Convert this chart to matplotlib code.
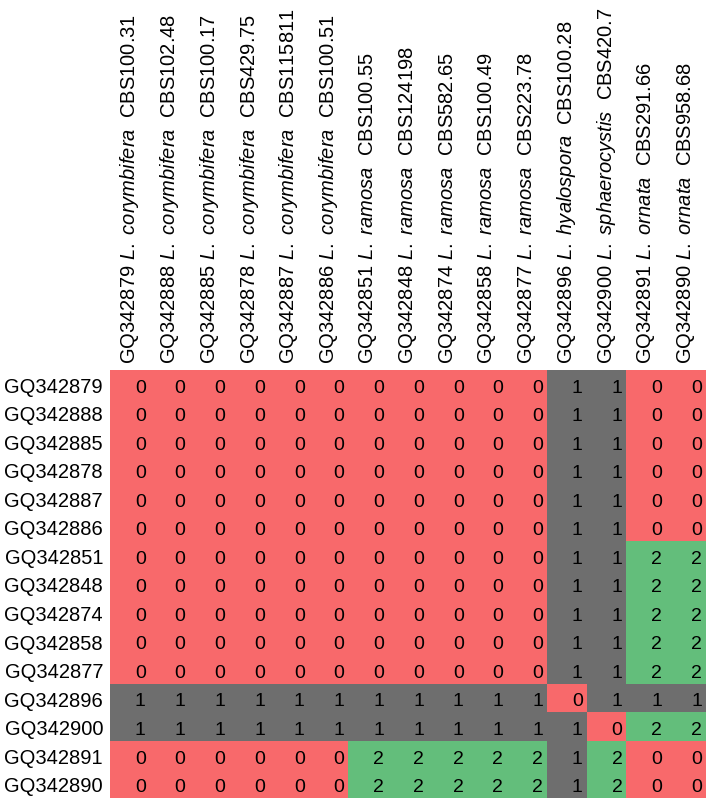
import numpy as np
import matplotlib
matplotlib.use('Agg')
import matplotlib.pyplot as plt
from matplotlib.colors import ListedColormap, BoundaryNorm

plt.rcParams['font.family'] = ['Liberation Sans', 'DejaVu Sans']
plt.rcParams['mathtext.fontset'] = 'custom'
plt.rcParams['mathtext.rm'] = 'Liberation Sans'
plt.rcParams['mathtext.it'] = 'Liberation Sans:italic'

# strains, species and culture numbers
accessions = ['GQ342879', 'GQ342888', 'GQ342885', 'GQ342878', 'GQ342887', 'GQ342886',
              'GQ342851', 'GQ342848', 'GQ342874', 'GQ342858', 'GQ342877',
              'GQ342896', 'GQ342900', 'GQ342891', 'GQ342890']
species = ['corymbifera'] * 6 + ['ramosa'] * 5 + ['hyalospora', 'sphaerocystis', 'ornata', 'ornata']
strains = ['CBS100.31', 'CBS102.48', 'CBS100.17', 'CBS429.75', 'CBS115811', 'CBS100.51',
           'CBS100.55', 'CBS124198', 'CBS582.65', 'CBS100.49', 'CBS223.78',
           'CBS100.28', 'CBS420.7', 'CBS291.66', 'CBS958.68']

# pairwise values (rows and columns in the same order)
values = [
    [0, 0, 0, 0, 0, 0, 0, 0, 0, 0, 0, 1, 1, 0, 0],
    [0, 0, 0, 0, 0, 0, 0, 0, 0, 0, 0, 1, 1, 0, 0],
    [0, 0, 0, 0, 0, 0, 0, 0, 0, 0, 0, 1, 1, 0, 0],
    [0, 0, 0, 0, 0, 0, 0, 0, 0, 0, 0, 1, 1, 0, 0],
    [0, 0, 0, 0, 0, 0, 0, 0, 0, 0, 0, 1, 1, 0, 0],
    [0, 0, 0, 0, 0, 0, 0, 0, 0, 0, 0, 1, 1, 0, 0],
    [0, 0, 0, 0, 0, 0, 0, 0, 0, 0, 0, 1, 1, 2, 2],
    [0, 0, 0, 0, 0, 0, 0, 0, 0, 0, 0, 1, 1, 2, 2],
    [0, 0, 0, 0, 0, 0, 0, 0, 0, 0, 0, 1, 1, 2, 2],
    [0, 0, 0, 0, 0, 0, 0, 0, 0, 0, 0, 1, 1, 2, 2],
    [0, 0, 0, 0, 0, 0, 0, 0, 0, 0, 0, 1, 1, 2, 2],
    [1, 1, 1, 1, 1, 1, 1, 1, 1, 1, 1, 0, 1, 1, 1],
    [1, 1, 1, 1, 1, 1, 1, 1, 1, 1, 1, 1, 0, 2, 2],
    [0, 0, 0, 0, 0, 0, 2, 2, 2, 2, 2, 1, 2, 0, 0],
    [0, 0, 0, 0, 0, 0, 2, 2, 2, 2, 2, 1, 2, 0, 0],
]

data = np.array(values)
n = len(accessions)

col_labels = [a + ' $\\mathit{L.}$ $\\mathit{' + s + '}$  ' + c
              for a, s, c in zip(accessions, species, strains)]

cmap = ListedColormap(['#F8696B', '#6E6E6E', '#63BE7B'])
norm = BoundaryNorm([-0.5, 0.5, 1.5, 2.5], cmap.N)

fig = plt.figure(figsize=(7.14, 8.04), dpi=100)
ax = fig.add_axes([110/714, 1 - 799/804, 596/714, 428/804])
ax.imshow(data, cmap=cmap, norm=norm, aspect='auto', interpolation='nearest')

for i in range(n):
    for j in range(n):
        ax.text(j + 0.4, i + 0.1, str(data[i, j]), ha='right', va='center',
                fontsize=14, color='black')

ax.xaxis.tick_top()
ax.set_xticks(range(n))
ax.set_xticklabels(col_labels, rotation=90, fontsize=14.5, va='bottom', ha='center')
ax.set_yticks(range(n))
ax.set_yticklabels(accessions, fontsize=14.5)
ax.tick_params(length=0, pad=5)
for sp in ax.spines.values():
    sp.set_visible(False)

fig.savefig('out.png', dpi=100)
